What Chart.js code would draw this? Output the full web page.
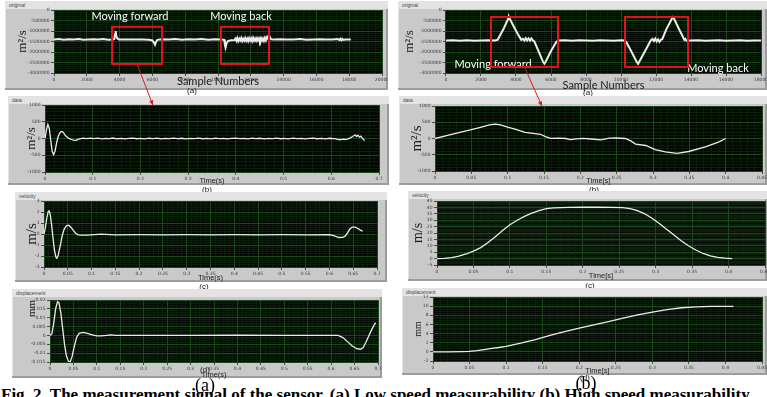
<!DOCTYPE html>
<html>
<head>
<meta charset="utf-8">
<script src="https://cdn.jsdelivr.net/npm/chart.js@4.4.1/dist/chart.umd.min.js"></script>
<style>
body { margin: 0; background: #fff; }
#page { position: relative; width: 767px; height: 397px; overflow: hidden; font-family: "Liberation Sans", Arial, sans-serif; }
.panel { position: absolute; background: #c9c9c9; box-shadow: inset -2px -2px 0 #9c9c9c, inset 1px 1px 0 #e4e4e4; }
.panel::before { content: ''; position: absolute; left: 0; top: 0; right: 0; height: 8px; background: #e3e3e3; }
.panel .cap { position: absolute; left: 4px; top: 1px; font-size: 5px; line-height: 6px; color: #444; }
canvas.plot { position: absolute; }
.sub { position: absolute; font-size: 8px; line-height: 8px; color: #111; transform: translate(-50%, -50%); }
.big { position: absolute; font-family: "Liberation Serif", serif; font-size: 18px; line-height: 18px; color: #000; transform: translateX(-50%); }
#caption { position: absolute; left: 1px; top: 386px; white-space: nowrap; font-family: "Liberation Serif", serif; font-weight: bold; font-size: 17px; line-height: 17px; color: #000; }
#arrows { position: absolute; left: 0; top: 0; pointer-events: none; }
</style>
</head>
<body>
<div id="page">
  <div id="caption">Fig. 2. The measurement signal of the sensor. (a) Low speed measurability (b) High speed measurability</div>
  <div class="big" style="left:205px; top:376px;">(a)</div>
  <div class="big" style="left:586px; top:374px;">(b)</div>
  <canvas id="arrows" width="767" height="397"></canvas>
</div>
<script>
// tick values
const lowSampleTicks = [0, 2000, 4000, 6000, 8000, 10000, 12000, 14000, 16000, 18000, 20000];
const highSampleTicks = [0, 2000, 4000, 6000, 8000, 10000, 12000, 14000, 16000, 18000];
const origTicks = [-3000000, -2500000, -2000000, -1500000, -1000000, -500000, 0];
const lowTimeCoarse = [0, 0.1, 0.2, 0.3, 0.4, 0.5, 0.6, 0.7];
const lowTimeFine = [0, 0.05, 0.1, 0.15, 0.2, 0.25, 0.3, 0.35, 0.4, 0.45, 0.5, 0.55, 0.6, 0.65, 0.7];
const highTime = [0, 0.05, 0.1, 0.15, 0.2, 0.25, 0.3, 0.35, 0.4, 0.45];
const dataTicks = [-1000, -500, 0, 500, 1000];
const velLowTicks = [-3, -2, -1, 0, 1, 2, 3];
const velHighTicks = [-5, 0, 5, 10, 15, 20, 25, 30, 35, 40, 45];
const dispLowTicks = [-0.015, -0.01, -0.005, 0, 0.005, 0.01, 0.015, 0.02];
const dispHighTicks = [-2, 0, 2, 4, 6, 8, 10, 12];

// (a) low speed: [sample or time, value]
const origLow = [[0,-1400000],[300,-1380000],[600,-1420000],[900,-1390000],[1200,-1410000],[1500,-1380000],[1800,-1420000],[2100,-1400000],[2400,-1390000],[2700,-1410000],[3000,-1380000],[3300,-1420000],[3600,-1400000],[3680,-1380000],[3720,-1150000],[3760,-1000000],[3800,-1250000],[3860,-1350000],[3950,-1400000],[4200,-1410000],[4600,-1400000],[5000,-1410000],[5400,-1400000],[5800,-1420000],[6000,-1450000],[6100,-1560000],[6160,-1650000],[6220,-1520000],[6300,-1420000],[6600,-1390000],[7000,-1410000],[7400,-1380000],[7800,-1420000],[8200,-1390000],[8600,-1410000],[9000,-1380000],[9400,-1420000],[9800,-1390000],[10200,-1410000],[10380,-1420000],[10420,-1650000],[10460,-1790000],[10520,-1600000],[10600,-1480000],[10800,-1440000],[11000,-1430000],[11060,-1360000],[11120,-1470000],[11180,-1340000],[11240,-1480000],[11300,-1360000],[11360,-1450000],[11420,-1330000],[11480,-1480000],[11540,-1370000],[11600,-1460000],[11660,-1340000],[11720,-1470000],[11780,-1360000],[11840,-1480000],[11900,-1340000],[11960,-1450000],[12020,-1350000],[12080,-1480000],[12140,-1330000],[12200,-1460000],[12260,-1360000],[12320,-1470000],[12380,-1340000],[12440,-1450000],[12500,-1350000],[12560,-1480000],[12620,-1340000],[12680,-1460000],[12740,-1360000],[12800,-1470000],[12860,-1330000],[12920,-1440000],[12980,-1290000],[13040,-1350000],[13100,-1180000],[13160,-1300000],[13240,-1400000],[13400,-1410000],[13800,-1390000],[14200,-1410000],[14600,-1400000],[15000,-1380000],[15400,-1420000],[15800,-1400000],[16200,-1390000],[16600,-1410000],[17000,-1400000],[17300,-1380000],[17400,-1430000],[17460,-1370000],[17520,-1440000],[17580,-1380000],[17640,-1420000],[17800,-1400000],[18100,-1400000]];
const dataLow = [[0,0],[0.003,250],[0.006,420],[0.009,300],[0.012,-50],[0.015,-380],[0.018,-480],[0.021,-380],[0.024,-150],[0.027,30],[0.03,140],[0.033,200],[0.036,210],[0.039,170],[0.042,100],[0.045,60],[0.048,20],[0.052,-10],[0.056,-30],[0.06,-50],[0.065,-55],[0.07,-20],[0.075,-5],[0.08,8],[0.087,-6],[0.095,12],[0.103,-4],[0.11,9],[0.12,-10],[0.127,5],[0.135,-3],[0.143,14],[0.15,-8],[0.16,6],[0.168,-12],[0.175,4],[0.185,10],[0.192,-7],[0.2,3],[0.21,-11],[0.217,8],[0.226,-2],[0.235,12],[0.243,-9],[0.252,4],[0.26,-6],[0.27,11],[0.278,-3],[0.287,7],[0.295,-12],[0.305,5],[0.313,-4],[0.322,13],[0.33,-7],[0.34,2],[0.348,-10],[0.357,9],[0.365,-5],[0.374,6],[0.382,-13],[0.39,4],[0.4,10],[0.408,-6],[0.417,3],[0.425,-9],[0.434,12],[0.442,-4],[0.45,7],[0.46,-11],[0.468,5],[0.477,-3],[0.485,10],[0.494,-8],[0.502,2],[0.51,-12],[0.52,9],[0.528,-5],[0.537,6],[0.545,-10],[0.554,3],[0.562,11],[0.57,-7],[0.58,4],[0.588,-9],[0.597,8],[0.605,-4],[0.61,-10],[0.615,-30],[0.62,-35],[0.625,-20],[0.63,-30],[0.635,-10],[0.64,20],[0.645,60],[0.65,110],[0.653,60],[0.656,100],[0.659,40],[0.662,70],[0.665,10],[0.668,-40],[0.67,-60]];
const velLow = [[0,0],[0.003,0.6],[0.006,1.5],[0.009,2.05],[0.011,2.1],[0.013,1.8],[0.016,0.8],[0.019,-0.4],[0.022,-1.5],[0.025,-2.1],[0.027,-2.2],[0.03,-1.9],[0.034,-1.1],[0.038,-0.2],[0.042,0.4],[0.047,0.75],[0.052,0.8],[0.057,0.6],[0.062,0.3],[0.067,0.05],[0.072,-0.08],[0.078,-0.1],[0.09,-0.1],[0.12,-0.02],[0.15,-0.08],[0.2,-0.06],[0.25,-0.08],[0.3,-0.06],[0.35,-0.08],[0.4,-0.06],[0.45,-0.08],[0.5,-0.06],[0.55,-0.08],[0.6,-0.07],[0.605,-0.1],[0.612,-0.2],[0.62,-0.32],[0.628,-0.3],[0.633,-0.2],[0.638,0.1],[0.643,0.45],[0.648,0.63],[0.654,0.62],[0.66,0.5],[0.665,0.35],[0.67,0.25]];
const dispLow = [[0,0],[0.004,0.001],[0.008,0.007],[0.012,0.015],[0.016,0.019],[0.019,0.0185],[0.023,0.013],[0.027,0.004],[0.031,-0.005],[0.035,-0.0115],[0.039,-0.0145],[0.043,-0.015],[0.047,-0.012],[0.052,-0.006],[0.057,-0.001],[0.062,0.0012],[0.07,0.0017],[0.08,0.0012],[0.09,0.0003],[0.1,-0.0003],[0.11,-0.0002],[0.12,0],[0.13,0.0003],[0.14,0],[0.2,0],[0.3,0],[0.4,0.0001],[0.5,0],[0.615,0],[0.625,-0.0012],[0.635,-0.0035],[0.645,-0.006],[0.655,-0.0075],[0.662,-0.0078],[0.668,-0.007],[0.674,-0.004],[0.68,-0.0005],[0.686,0.003],[0.692,0.006],[0.695,0.0072]];

// (b) high speed
const origHigh = [[0,-1450000],[400,-1440000],[800,-1460000],[1200,-1440000],[1600,-1460000],[2000,-1450000],[2400,-1440000],[2800,-1450000],[2950,-1420000],[3300,-880000],[3550,-420000],[3600,-340000],[3650,-430000],[3900,-830000],[4200,-1280000],[4300,-1420000],[4400,-1370000],[4480,-1460000],[4560,-1340000],[4640,-1450000],[4720,-1350000],[4800,-1460000],[4880,-1360000],[4960,-1450000],[5050,-1500000],[5300,-1980000],[5550,-2480000],[5620,-2560000],[5700,-2450000],[6000,-1950000],[6300,-1520000],[6400,-1450000],[6800,-1440000],[7200,-1460000],[7600,-1440000],[8000,-1450000],[8400,-1460000],[8800,-1440000],[9200,-1450000],[9600,-1460000],[10000,-1440000],[10200,-1450000],[10300,-1520000],[10600,-1990000],[10900,-2470000],[10980,-2560000],[11050,-2450000],[11400,-1920000],[11700,-1450000],[11800,-1380000],[11880,-1480000],[11960,-1360000],[12040,-1500000],[12120,-1400000],[12200,-1520000],[12280,-1420000],[12360,-1380000],[12600,-900000],[12900,-430000],[12970,-340000],[13040,-430000],[13300,-880000],[13550,-1300000],[13620,-1420000],[13680,-1380000],[13740,-1460000],[14000,-1450000],[14400,-1440000],[14800,-1460000],[15200,-1450000],[15600,-1440000],[16000,-1460000],[16400,-1450000],[16800,-1440000],[17200,-1460000],[17600,-1450000],[18000,-1450000]];
const dataHigh = [[0,0],[0.02,110],[0.04,220],[0.06,330],[0.075,420],[0.083,445],[0.09,420],[0.1,350],[0.11,290],[0.124,190],[0.135,160],[0.145,130],[0.152,60],[0.159,5],[0.17,10],[0.18,0],[0.186,-35],[0.195,-10],[0.204,5],[0.215,-15],[0.228,-40],[0.24,10],[0.248,15],[0.262,0],[0.27,-80],[0.276,-170],[0.29,-215],[0.303,-340],[0.317,-410],[0.333,-460],[0.349,-400],[0.372,-260],[0.39,-110],[0.4,0]];
const velHigh = [[0,0],[0.01,0.2],[0.02,0.8],[0.03,2],[0.04,3.6],[0.05,5.8],[0.06,8.6],[0.07,12.5],[0.08,17],[0.09,22],[0.1,26.5],[0.11,30],[0.12,33],[0.13,35.5],[0.14,37.5],[0.15,39],[0.16,39.6],[0.18,40],[0.2,40.2],[0.22,40.1],[0.24,40],[0.255,39.8],[0.265,39],[0.275,37.5],[0.285,35],[0.295,31.5],[0.305,27.5],[0.315,23],[0.325,18.5],[0.335,14],[0.345,10],[0.355,6.7],[0.365,4],[0.375,2.2],[0.385,1],[0.395,0.3],[0.405,0]];
const dispHigh = [[0,0],[0.02,0],[0.04,0.05],[0.05,0.1],[0.06,0.25],[0.07,0.5],[0.08,0.75],[0.09,0.95],[0.1,1.2],[0.12,1.9],[0.14,2.7],[0.16,3.6],[0.18,4.4],[0.2,5.2],[0.22,5.9],[0.24,6.6],[0.26,7.4],[0.28,8.1],[0.3,8.7],[0.32,9.25],[0.34,9.65],[0.36,9.85],[0.38,9.95],[0.411,9.95]];

// red boxes and labels, in data units of the "original" graphs
const lowBoxes = [{x0: 3540, x1: 6590, y0: -800000, y1: -2570000}, {x0: 10180, x1: 13110, y0: -800000, y1: -2570000}];
const lowNotes = [{text: 'Moving forward', x: 4630, y: -330000}, {text: 'Moving back', x: 11400, y: -330000}];
const highBoxes = [{x0: 2570, x1: 6400, y0: -330000, y1: -2710000}, {x0: 10230, x1: 13830, y0: -330000, y1: -2710000}];
const highNotes = [{text: 'Moving forward', x: 2690, y: -2570000}, {text: 'Moving back', x: 15540, y: -2800000}];

const MAJOR = '#1d461d';
const MINOR = '#0b1e0b';
const SERIF = '"Liberation Serif", serif';
const SANS = '"Liberation Sans", Arial, sans-serif';

// black plot area, red boxes and notes
const panelPlugin = {
    id: 'panel',
    defaults: { boxes: [], notes: [] },
    beforeDraw(chart) {
        const a = chart.chartArea, c = chart.ctx;
        c.save();
        c.fillStyle = '#020802';
        c.fillRect(a.left, a.top, a.right - a.left, a.bottom - a.top);
        c.restore();
    },
    afterDatasetsDraw(chart, args, opts) {
        const c = chart.ctx, sx = chart.scales.x, sy = chart.scales.y;
        c.save();
        c.font = '11px Lato, "Open Sans", sans-serif';
        c.fillStyle = '#ffffff';
        c.textAlign = 'center';
        c.textBaseline = 'middle';
        opts.notes.forEach(n => c.fillText(n.text, sx.getPixelForValue(n.x), sy.getPixelForValue(n.y)));
        c.strokeStyle = '#e3141b';
        c.lineWidth = 2;
        opts.boxes.forEach(b => {
            const x0 = sx.getPixelForValue(b.x0), x1 = sx.getPixelForValue(b.x1);
            const y0 = sy.getPixelForValue(b.y0), y1 = sy.getPixelForValue(b.y1);
            c.strokeRect(x0, y0, x1 - x0, y1 - y0);
        });
        c.restore();
    }
};
Chart.register(panelPlugin);

const fmt = v => String(+(+v).toFixed(4));

// minor grid positions: 5 divisions per major step
function subdivide(ticks) {
    const out = [];
    for (let i = 0; i < ticks.length - 1; i++) {
        const step = (ticks[i + 1] - ticks[i]) / 5;
        for (let k = 0; k < 5; k++) out.push(ticks[i] + k * step);
    }
    out.push(ticks[ticks.length - 1]);
    return out;
}

function minorAxis(dir, ticks) {
    return {
        type: 'linear',
        position: dir === 'x' ? 'bottom' : 'left',
        min: ticks[0],
        max: ticks[ticks.length - 1],
        afterBuildTicks: s => { s.ticks = subdivide(ticks).map(v => ({ value: v })); },
        afterFit: s => {
            if (dir === 'x') s.height = 0; else s.width = 0;
            s.paddingLeft = s.paddingRight = s.paddingTop = s.paddingBottom = 0;
        },
        ticks: { display: false },
        grid: { color: MINOR, lineWidth: 1, drawTicks: false, z: -2 },
        border: { display: false }
    };
}

function majorAxis(dir, ticks, title, font, size, align) {
    return {
        type: 'linear',
        position: dir === 'x' ? 'bottom' : 'left',
        min: ticks[0],
        max: ticks[ticks.length - 1],
        afterBuildTicks: s => { s.ticks = ticks.map(v => ({ value: v })); },
        afterFit: s => {
            if (dir === 'x') s.height = size; else s.width = size;
            s.paddingLeft = s.paddingRight = s.paddingTop = s.paddingBottom = 0;
        },
        ticks: {
            autoSkip: false, maxRotation: 0, minRotation: 0, padding: 1.5,
            color: '#3a3a3a', font: { family: '"DejaVu Sans", sans-serif', size: 4.5 },
            callback: v => fmt(v)
        },
        grid: { color: MAJOR, lineWidth: 1, drawTicks: true, tickLength: 3, tickColor: '#4a4a4a', z: -1 },
        border: { display: false },
        title: { display: true, text: title, color: '#1a1a1a', font: font, padding: 0, align: align || 'center' }
    };
}

const panels = [
    { id: 'origLow', cap: 'original', box: [5, 1, 383, 89], plot: [54, 10, 382, 73], data: origLow, width: 2,
      xTicks: lowSampleTicks, yTicks: origTicks, xTitle: 'Sample Numbers', xFont: { family: 'Lato, sans-serif', size: 11 }, xTitleY: 81,
      yTitle: 'm²/s', yFont: { family: SERIF, size: 13 }, yTitleX: 23, sub: ['(a)', 192, 91], boxes: lowBoxes, notes: lowNotes },
    { id: 'dataLow', cap: 'data', box: [8, 96, 381, 89], plot: [45, 105, 379, 172], data: dataLow,
      xTicks: lowTimeCoarse, yTicks: dataTicks, xTitle: 'Time(s)', xFont: { family: SANS, size: 7.5 }, xTitleY: 181,
      yTitle: 'm²/s', yFont: { family: SERIF, size: 13 }, yTitleX: 32, sub: ['(b)', 207, 190] },
    { id: 'velLow', cap: 'velocity', box: [15, 192, 372, 90], plot: [44, 201, 377, 267], data: velLow,
      xTicks: lowTimeFine, yTicks: velLowTicks, xTitle: 'Time(s)', xFont: { family: SANS, size: 7.5 }, xTitleY: 278,
      yTitle: 'm/s', yFont: { family: SERIF, size: 15 }, yTitleX: 32, sub: ['(c)', 204, 287] },
    { id: 'dispLow', cap: 'displacement', box: [12, 289, 370, 89], plot: [50, 300, 378, 362], data: dispLow,
      xTicks: lowTimeFine, yTicks: dispLowTicks, xTitle: 'Time(s)', xFont: { family: SANS, size: 7.5 }, xTitleY: 375,
      yTitle: 'mm', yFont: { family: SERIF, size: 11 }, yTitleX: 32, yAlign: 'end', sub: ['(d)', 205, 370] },
    { id: 'origHigh', cap: 'original', box: [398, 1, 369, 89], plot: [446, 10, 761, 73], data: origHigh, width: 2,
      xTicks: highSampleTicks, yTicks: origTicks, xTitle: 'Sample Numbers', xFont: { family: 'Lato, sans-serif', size: 11 }, xTitleY: 85,
      yTitle: 'm²/s', yFont: { family: SERIF, size: 13 }, yTitleX: 410, sub: ['(a)', 588, 93], boxes: highBoxes, notes: highNotes },
    { id: 'dataHigh', cap: 'data', box: [399, 96, 368, 89], plot: [435, 106, 762, 171], data: dataHigh,
      xTicks: highTime, yTicks: dataTicks, xTitle: 'Time[s]', xFont: { family: SANS, size: 7.5 }, xTitleY: 181,
      yTitle: 'm²/s', yFont: { family: SERIF, size: 15 }, yTitleX: 417, sub: ['(b)', 594, 190] },
    { id: 'velHigh', cap: 'velocity', box: [408, 191, 359, 90], plot: [437, 201, 765, 265], data: velHigh,
      xTicks: highTime, yTicks: velHighTicks, xTitle: 'Time[s]', xFont: { family: SANS, size: 7.5 }, xTitleY: 276,
      yTitle: 'm/s', yFont: { family: SERIF, size: 14 }, yTitleX: 418, sub: ['(c)', 590, 286] },
    { id: 'dispHigh', cap: 'displacement', box: [402, 288, 365, 87], plot: [433, 297, 762, 361], data: dispHigh,
      xTicks: highTime, yTicks: dispHighTicks, xTitle: 'Time[s]', xFont: { family: SANS, size: 7.5 }, xTitleY: 371,
      yTitle: 'mm', yFont: { family: SERIF, size: 10 }, yTitleX: 418, sub: ['(d)', 585, 378] }
];

const page = document.getElementById('page');
const arrowCanvas = document.getElementById('arrows');
const firstBig = document.querySelector('.big');
const charts = {};

function makePanel(p) {
    const [gx, gy, gw, gh] = p.box;
    const [pl, pt, pr, pb] = p.plot;

    const div = document.createElement('div');
    div.className = 'panel';
    div.style.cssText = `left:${gx}px;top:${gy}px;width:${gw}px;height:${gh}px;`;
    const cap = document.createElement('div');
    cap.className = 'cap';
    cap.textContent = p.cap;
    div.appendChild(cap);
    page.insertBefore(div, firstBig);

    const H = gh + 14;
    const cv = document.createElement('canvas');
    cv.className = 'plot';
    cv.width = gw; cv.height = H;
    cv.style.cssText = `left:${gx}px;top:${gy}px;width:${gw}px;height:${H}px;`;
    page.insertBefore(cv, firstBig);

    const yHalf = p.yFont.size * 1.2 / 2;
    const xHalf = p.xFont.size * 1.2 / 2;
    const titleBottom = p.xTitleY - gy + xHalf;

    charts[p.id] = new Chart(cv, {
        type: 'line',
        data: {
            datasets: [{
                data: p.data.map(d => ({ x: d[0], y: d[1] })),
                xAxisID: 'x', yAxisID: 'y',
                borderColor: '#ececec',
                borderWidth: p.width || 1.3,
                pointRadius: 0,
                tension: 0,
                fill: false
            }]
        },
        options: {
            responsive: false,
            animation: false,
            events: [],
            layout: {
                autoPadding: false,
                padding: { left: p.yTitleX - yHalf - gx, top: pt - gy, right: gx + gw - pr, bottom: H - titleBottom }
            },
            plugins: {
                legend: { display: false },
                tooltip: { enabled: false },
                panel: { boxes: p.boxes || [], notes: p.notes || [] }
            },
            scales: {
                xm: minorAxis('x', p.xTicks),
                ym: minorAxis('y', p.yTicks),
                x: majorAxis('x', p.xTicks, p.xTitle, p.xFont, titleBottom - (pb - gy)),
                y: majorAxis('y', p.yTicks, p.yTitle, p.yFont, pl - p.yTitleX + yHalf, p.yAlign)
            }
        }
    });

    const sub = document.createElement('div');
    sub.className = 'sub';
    sub.textContent = p.sub[0];
    sub.style.left = p.sub[1] + 'px';
    sub.style.top = p.sub[2] + 'px';
    page.insertBefore(sub, firstBig);
}

panels.forEach(makePanel);

// red arrows from the first box down to the data graph
function drawArrow(fromId, boxes, toId, t) {
    const a = charts[fromId], b = charts[toId];
    const box = boxes[0];
    const x1 = a.canvas.offsetLeft + a.scales.x.getPixelForValue((box.x0 + box.x1) / 2);
    const y1 = a.canvas.offsetTop + a.scales.y.getPixelForValue(box.y1);
    const x2 = b.canvas.offsetLeft + b.scales.x.getPixelForValue(t);
    const y2 = b.canvas.offsetTop + b.chartArea.top;
    const c = arrowCanvas.getContext('2d');
    c.strokeStyle = '#d41c1c';
    c.fillStyle = '#d41c1c';
    c.lineWidth = 1;
    c.beginPath();
    c.moveTo(x1, y1);
    c.lineTo(x2, y2);
    c.stroke();
    const ang = Math.atan2(y2 - y1, x2 - x1);
    c.beginPath();
    c.moveTo(x2, y2);
    c.lineTo(x2 - 5 * Math.cos(ang - 0.45), y2 - 5 * Math.sin(ang - 0.45));
    c.lineTo(x2 - 5 * Math.cos(ang + 0.45), y2 - 5 * Math.sin(ang + 0.45));
    c.closePath();
    c.fill();
}

drawArrow('origLow', lowBoxes, 'dataLow', 0.226);
drawArrow('origHigh', highBoxes, 'dataHigh', 0.147);
</script>
</body>
</html>
